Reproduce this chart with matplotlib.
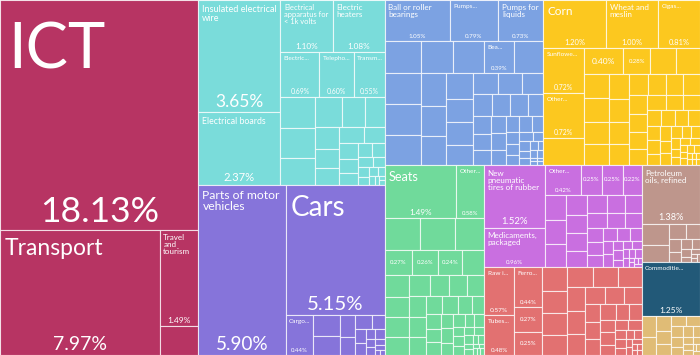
import math
import matplotlib
matplotlib.use('Agg')
import matplotlib.pyplot as plt
from matplotlib.patches import Rectangle

W, H = 700, 355
FONT = ['Lato', 'DejaVu Sans']

# product shares (% of total exports), per sector, largest first
services_vals = [18.13, 7.97, 1.49, 0.45]
services_names = ['ICT', 'Transport', 'Travel and tourism']

elec_vals = [3.65, 2.37, 1.10, 1.08, 0.69, 0.60, 0.55, 0.42, 0.41, 0.37, 0.34, 0.28, 0.24,
             0.21, 0.19, 0.17, 0.15, 0.13, 0.12, 0.10, 0.09, 0.08, 0.07, 0.06, 0.05, 0.04,
             0.035, 0.03, 0.025, 0.02, 0.015, 0.01, 0.01]
elec_names = ['Insulated electrical wire', 'Electrical boards',
              'Electrical apparatus for < 1k volts', 'Electric heaters',
              'Electric...', 'Telepho...', 'Transm...']

vehicle_vals = [5.90, 5.15, 0.44, 0.22, 0.20, 0.13, 0.11, 0.09, 0.07, 0.06, 0.05, 0.04,
                0.04, 0.03, 0.03, 0.02, 0.02, 0.01, 0.01]
vehicle_names = ['Parts of motor vehicles', 'Cars', 'Cargo...']

machine_vals = [1.05, 0.79, 0.73, 0.46, 0.45, 0.44, 0.43, 0.42, 0.40, 0.39, 0.38, 0.33,
                0.31, 0.29, 0.27, 0.25, 0.24, 0.22, 0.21, 0.20, 0.18, 0.17, 0.16, 0.15,
                0.14, 0.13, 0.12, 0.11, 0.10, 0.10, 0.09, 0.08, 0.08, 0.07, 0.06, 0.06,
                0.05, 0.05, 0.04, 0.04, 0.03, 0.03, 0.03, 0.02, 0.02, 0.02, 0.01, 0.01,
                0.01, 0.01]
machine_names = ['Ball or roller bearings', 'Pumps...', 'Pumps for liquids',
                 None, None, None, None, None, None, 'Bea...']

veg_vals = [1.20, 1.00, 0.81, 0.72, 0.72, 0.44, 0.40, 0.28, 0.26, 0.25, 0.24, 0.23, 0.22,
            0.21, 0.20, 0.19, 0.18, 0.17, 0.16, 0.15, 0.15, 0.14, 0.14, 0.13, 0.12, 0.12,
            0.11, 0.10, 0.10, 0.09, 0.09, 0.08, 0.08, 0.07, 0.07, 0.06, 0.06, 0.05, 0.05,
            0.05, 0.04, 0.04, 0.04, 0.03, 0.03, 0.03, 0.03, 0.02, 0.02, 0.02, 0.02, 0.02,
            0.01, 0.01, 0.01, 0.01, 0.01, 0.01]
veg_names = ['Corn', 'Wheat and meslin', 'Cigas...', 'Sunflowe...', 'Other...', None, '', '']

misc_vals = [1.49, 0.58, 0.46, 0.45, 0.37, 0.27, 0.26, 0.24, 0.22, 0.21, 0.20, 0.19, 0.18,
             0.17, 0.16, 0.15, 0.14, 0.14, 0.13, 0.12, 0.12, 0.11, 0.10, 0.09, 0.09, 0.08,
             0.08, 0.07, 0.07, 0.06, 0.06, 0.05, 0.05, 0.04, 0.04, 0.04, 0.03, 0.03, 0.03,
             0.02, 0.02, 0.02, 0.02, 0.01, 0.01, 0.01, 0.01, 0.01]
misc_names = ['Seats', 'Other...', None, None, None, '', '', '']

chem_vals = [1.52, 0.96, 0.42, 0.25, 0.25, 0.22, 0.21, 0.20, 0.19, 0.17, 0.16, 0.15, 0.14,
             0.14, 0.13, 0.12, 0.12, 0.11, 0.10, 0.09, 0.08, 0.08, 0.07, 0.06, 0.06, 0.05,
             0.05, 0.04, 0.04, 0.03, 0.03, 0.03, 0.02, 0.02, 0.02, 0.02, 0.01, 0.01, 0.01,
             0.01, 0.01]
chem_names = ['New pneumatic tires of rubber', 'Medicaments, packaged', 'Other...', '', '', '']

metal_vals = [0.57, 0.48, 0.44, 0.27, 0.25, 0.24, 0.23, 0.22, 0.21, 0.20, 0.19, 0.18, 0.17,
              0.16, 0.15, 0.14, 0.13, 0.12, 0.11, 0.10, 0.10, 0.10, 0.09, 0.08, 0.07, 0.07,
              0.06, 0.05, 0.05, 0.04, 0.04, 0.03, 0.03, 0.03, 0.02, 0.02, 0.02, 0.01, 0.01,
              0.01, 0.01]
metal_names = ['Raw i...', 'Tubes...', 'Ferro...', '', '']

mineral_vals = [1.38, 0.23, 0.19, 0.10, 0.08, 0.06, 0.05, 0.04, 0.03, 0.03, 0.02, 0.02,
                0.01, 0.01, 0.01]
mineral_names = ['Petroleum oils, refined']

unknown_vals = [1.25]
unknown_names = ['Commoditie...']

food_vals = [0.12, 0.10, 0.09, 0.08, 0.07, 0.06, 0.06, 0.05, 0.05, 0.04, 0.04, 0.03, 0.03,
             0.02, 0.02, 0.02, 0.01, 0.01, 0.01]
food_names = []

sectors = [
    (services_vals, services_names, '#B73463'),
    (elec_vals, elec_names, '#7ADCDA'),
    (vehicle_vals, vehicle_names, '#8674DA'),
    (machine_vals, machine_names, '#7CA2E2'),
    (veg_vals, veg_names, '#FCC81F'),
    (misc_vals, misc_names, '#70DA9B'),
    (chem_vals, chem_names, '#C96FE0'),
    (metal_vals, metal_names, '#E27171'),
    (mineral_vals, mineral_names, '#BE968C'),
    (unknown_vals, unknown_names, '#225978'),
    (food_vals, food_names, '#E0BC76'),
]


def squarify(values, x0, y0, x1, y1):
    # squarified treemap (ratio 1), rows laid out the way d3 does it
    rects = []
    n = len(values)
    i0 = i1 = 0
    value = sum(values)
    while i0 < n:
        dx, dy = x1 - x0, y1 - y0
        s = values[i1]
        i1 += 1
        vmin = vmax = s
        alpha = max(dy / dx, dx / dy) / value
        beta = s * s * alpha
        best = max(vmax / beta, beta / vmin)
        while i1 < n:
            v = values[i1]
            s += v
            vmin, vmax = min(vmin, v), max(vmax, v)
            beta = s * s * alpha
            r = max(vmax / beta, beta / vmin)
            if r > best:
                s -= v
                break
            best = r
            i1 += 1
        row = values[i0:i1]
        if dx < dy:
            ye = y0 + dy * s / value if i1 < n else y1
            x = x0
            for v in row:
                w = dx * v / s
                rects.append((x, y0, w, ye - y0))
                x += w
            y0 = ye
        else:
            xe = x0 + dx * s / value if i1 < n else x1
            y = y0
            for v in row:
                h = dy * v / s
                rects.append((x0, y, xe - x0, h))
                y += h
            x0 = xe
        value -= s
        i0 = i1
    return rects


fig = plt.figure(figsize=(W / 100, H / 100), dpi=100)
ax = fig.add_axes([0, 0, 1, 1])
ax.set_xlim(0, W)
ax.set_ylim(H, 0)
ax.axis('off')
renderer = fig.canvas.get_renderer()


def measure(s, px):
    t = ax.text(0, 0, s, fontsize=px * 0.72, family=FONT)
    w = t.get_window_extent(renderer).width
    t.remove()
    return w


def wrap(words, px, maxw):
    lines, cur = [], ''
    for wd in words:
        trial = (cur + ' ' + wd).strip()
        if cur and measure(trial, px) > maxw:
            lines.append(cur)
            cur = wd
        else:
            cur = trial
    lines.append(cur)
    return lines


def draw_labels(name, val, x, y, w, h):
    pct = f'{val:.2f}%'
    em_p = measure(pct, 100) / 100
    if name:
        if name.endswith('...'):
            px, lines = 6.5, [name]
        else:
            em = measure(name, 100) / 100
            px = max(0.22 * (w * h / em) ** 0.55, 8)
            for _ in range(40):
                avail = w - 6 - 0.08 * px
                lines = wrap(name.split(), px, avail)
                widest = max(measure(l, px) for l in lines)
                if widest <= avail and len(lines) * 1.15 * px <= 0.5 * h:
                    break
                px *= 0.94
        ax.text(x + 3 + 0.08 * px, y + 2 + 0.3 * px, '\n'.join(lines), ha='left', va='top',
                fontsize=px * 0.72, family=FONT, color='white', linespacing=1.0)
        ps = max(min(0.155 * h, 0.6 * w / em_p), 6)
        ax.text(x + w / 2, y + h - 2, pct, ha='center', va='bottom',
                fontsize=ps * 0.72, family=FONT, color='white')
    else:
        ps = max(min(0.35 * h, 0.6 * w / em_p), 6)
        ax.text(x + w / 2, y + h / 2, pct, ha='center', va='center',
                fontsize=ps * 0.72, family=FONT, color='white')


totals = [sum(v) for v, _, _ in sectors]
order = sorted(range(len(sectors)), key=lambda i: -totals[i])
outer = squarify([totals[i] for i in order], 0, 0, W, H)

for i, (sx, sy, sw, sh) in zip(order, outer):
    vals, names, color = sectors[i]
    inner = squarify(vals, sx, sy, sx + sw, sy + sh)
    for k, (v, (x, y, w, h)) in enumerate(zip(vals, inner)):
        ax.add_patch(Rectangle((x, y), w, h, facecolor=color,
                               edgecolor=(1, 1, 1, 0.7), linewidth=0.8))
        if k < len(names) and names[k] is not None:
            draw_labels(names[k], v, x, y, w, h)

fig.savefig('out.png', dpi=100)
